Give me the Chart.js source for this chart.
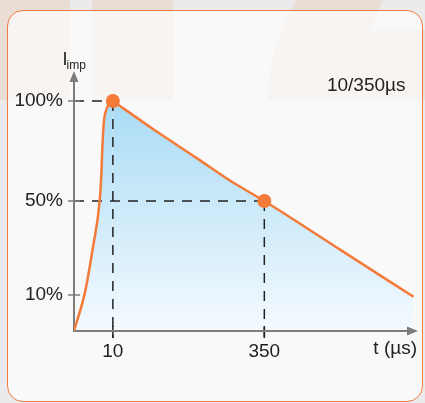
<!DOCTYPE html>
<html>
<head>
<meta charset="utf-8">
<script src="https://cdn.jsdelivr.net/npm/chart.js@4.4.0/dist/chart.umd.min.js"></script>
<style>
  html, body { margin: 0; padding: 0; width: 425px; height: 403px; overflow: hidden; background: #ebebed; }
  #wm, #chart, .card { position: absolute; left: 0; top: 0; }
  .card {
    left: 7px; top: 10px; width: 414px; height: 390px;
    border: 1.5px solid #f27b3f; border-radius: 16px;
    background: rgba(255, 255, 255, 0.68);
  }
</style>
</head>
<body>
<svg id="wm" width="425" height="403">
  <rect x="0" y="0" width="70" height="100" fill="#e9ddd6"/>
  <rect x="92" y="0" width="81" height="100" fill="#e9ddd6"/>
  <path d="M297 0 L383 0 L370 30 L425 30 L425 100 L267 100 Q271 40 297 0 Z" fill="#e9ddd6"/>
</svg>
<div class="card"></div>
<canvas id="chart" width="425" height="403"></canvas>
<script>
// impulse current 10/350 µs (schematic), front and tail
const riseT = [0, 2.8, 4.9, 6.6, 7.05, 7.3, 7.7, 8.3, 9.15, 10];
const riseI = [0, 11, 30.5, 50, 64, 77, 90, 95.5, 99, 100];
const tailT = [10, 100, 200, 270, 350, 520, 685];
const tailI = [100, 86, 71.2, 60.6, 50, 29.3, 9.5];

// marked points: peak and half value
const markT = [10, 350];
const markI = [100, 50];

const xTicks = [10, 350];
const yTicks = [10, 50, 100];
const xMax = 695;
const yMax = 115;

// the drawing is not to scale: each axis is stretched piecewise
const stops = {
  x: { values: [0, 10, xMax], fracs: [0, 0.113, 1] },
  y: { values: [0, 10, 50, 100, yMax], fracs: [0, 0.1385, 0.5, 0.8846, 1] },
};

class StretchScale extends Chart.LinearScale {
  getPixelForValue(value) {
    const { values, fracs } = stops[this.id];
    let i = 1;
    while (i < values.length - 1 && value > values[i]) i++;
    const k = (value - values[i - 1]) / (values[i] - values[i - 1]);
    return this.getPixelForDecimal(fracs[i - 1] + k * (fracs[i] - fracs[i - 1]));
  }
  getValueForPixel(pixel) {
    const { values, fracs } = stops[this.id];
    const d = this.getDecimalForPixel(pixel);
    let i = 1;
    while (i < fracs.length - 1 && d > fracs[i]) i++;
    const k = (d - fracs[i - 1]) / (fracs[i] - fracs[i - 1]);
    return values[i - 1] + k * (values[i] - values[i - 1]);
  }
}
StretchScale.id = 'stretch';
StretchScale.defaults = Chart.LinearScale.defaults;
Chart.register(StretchScale);

const FONT = '"Liberation Sans", Arial, sans-serif';
const ORANGE = '#f47a3a';
const AXIS = '#7d7d7d';

const blueFill = (ctx) => {
  const { chart } = ctx;
  if (!chart.chartArea) return 'rgba(0,0,0,0)';
  const y = chart.scales.y;
  const g = chart.ctx.createLinearGradient(0, y.getPixelForValue(100), 0, y.getPixelForValue(0));
  g.addColorStop(0, '#a9dbf5');
  g.addColorStop(1, '#f4fafe');
  return g;
};

const overlay = {
  id: 'overlay',
  beforeDatasetsDraw(chart) {
    const { ctx, scales: { x, y } } = chart;
    const x0 = x.getPixelForValue(0), y0 = y.getPixelForValue(0);
    const xEnd = x.getPixelForValue(xMax), yEnd = y.getPixelForValue(yMax);
    ctx.save();

    // dashed guides to the axes
    ctx.strokeStyle = '#222';
    ctx.lineWidth = 1.5;
    ctx.setLineDash([10, 8]);
    markT.forEach((t, i) => {
      const px = x.getPixelForValue(t), py = y.getPixelForValue(markI[i]);
      ctx.beginPath(); ctx.moveTo(x0, py); ctx.lineTo(px, py); ctx.stroke();
      ctx.beginPath(); ctx.moveTo(px, py); ctx.lineTo(px, y0 + 7); ctx.stroke();
    });
    ctx.setLineDash([]);
    xTicks.forEach(t => {
      const px = x.getPixelForValue(t);
      ctx.beginPath(); ctx.moveTo(px, y0 - 5); ctx.lineTo(px, y0 + 7); ctx.stroke();
    });

    // axes with arrows
    ctx.strokeStyle = AXIS;
    ctx.fillStyle = AXIS;
    ctx.lineWidth = 2;
    ctx.beginPath();
    ctx.moveTo(x0, y0); ctx.lineTo(x0, yEnd + 8);
    ctx.moveTo(x0 - 1, y0); ctx.lineTo(xEnd - 8, y0);
    ctx.stroke();
    ctx.beginPath();
    ctx.moveTo(x0, yEnd); ctx.lineTo(x0 - 4.5, yEnd + 11); ctx.lineTo(x0 + 4.5, yEnd + 11); ctx.closePath();
    ctx.moveTo(xEnd, y0); ctx.lineTo(xEnd - 11, y0 - 4.5); ctx.lineTo(xEnd - 11, y0 + 4.5); ctx.closePath();
    ctx.fill();

    ctx.lineWidth = 1.5;
    yTicks.forEach(v => {
      const py = y.getPixelForValue(v);
      ctx.beginPath(); ctx.moveTo(x0 - 6, py); ctx.lineTo(x0 + 6, py); ctx.stroke();
    });
    ctx.restore();
  },
  afterDraw(chart) {
    const { ctx, chartArea, scales: { x, y } } = chart;
    const x0 = x.getPixelForValue(0), y0 = y.getPixelForValue(0);
    const yEnd = y.getPixelForValue(yMax);
    ctx.save();
    ctx.fillStyle = '#222';
    ctx.textBaseline = 'alphabetic';
    ctx.font = '19px ' + FONT;
    ctx.textAlign = 'right';
    ctx.fillText('10/350µs', chartArea.right - 12.5, 91);
    ctx.fillText('t (µs)', chartArea.right - 1, y0 + 23);
    ctx.textAlign = 'left';
    ctx.font = '18px ' + FONT;
    ctx.fillText('I', x0 - 11.4, yEnd - 6);
    ctx.font = '12px ' + FONT;
    ctx.fillText('imp', x0 - 7.5, yEnd - 2.5);
    ctx.restore();
  }
};

const curve = (label, ts, vals) => ({
  label,
  data: ts.map((t, i) => ({ x: t, y: vals[i] })),
  borderColor: ORANGE,
  borderWidth: 2.5,
  cubicInterpolationMode: 'monotone',
  pointRadius: 0,
  fill: 'origin',
  backgroundColor: blueFill,
  order: 2,
});

new Chart(document.getElementById('chart'), {
  type: 'line',
  data: {
    datasets: [
      curve('front', riseT, riseI),
      curve('tail', tailT, tailI),
      {
        label: 'marks',
        data: markT.map((t, i) => ({ x: t, y: markI[i] })),
        showLine: false,
        pointRadius: 7,
        pointBackgroundColor: ORANGE,
        pointBorderWidth: 0,
        order: 1,
      },
    ],
  },
  options: {
    responsive: false,
    animation: false,
    events: [],
    layout: { padding: { left: 0, top: 71, right: 4, bottom: 0 } },
    plugins: {
      legend: { display: false },
      tooltip: { enabled: false },
      filler: { drawTime: 'beforeDatasetsDraw' },
    },
    scales: {
      x: {
        type: 'stretch',
        min: 0,
        max: xMax,
        bounds: 'data',
        afterFit: (s) => { s.height = 72; },
        afterBuildTicks: (s) => { s.ticks = xTicks.map(v => ({ value: v })); },
        grid: { display: false, drawTicks: false },
        border: { display: false },
        ticks: { padding: 9, color: '#222', font: { family: FONT, size: 19 }, callback: (v) => String(v) },
      },
      y: {
        type: 'stretch',
        min: 0,
        max: yMax,
        bounds: 'data',
        afterFit: (s) => { s.width = 74; },
        afterBuildTicks: (s) => { s.ticks = yTicks.map(v => ({ value: v })); },
        grid: { display: false, drawTicks: false },
        border: { display: false },
        ticks: { padding: 11, color: '#222', font: { family: FONT, size: 19 }, callback: (v) => v + '%' },
      },
    },
  },
  plugins: [overlay],
});
</script>
</body>
</html>
